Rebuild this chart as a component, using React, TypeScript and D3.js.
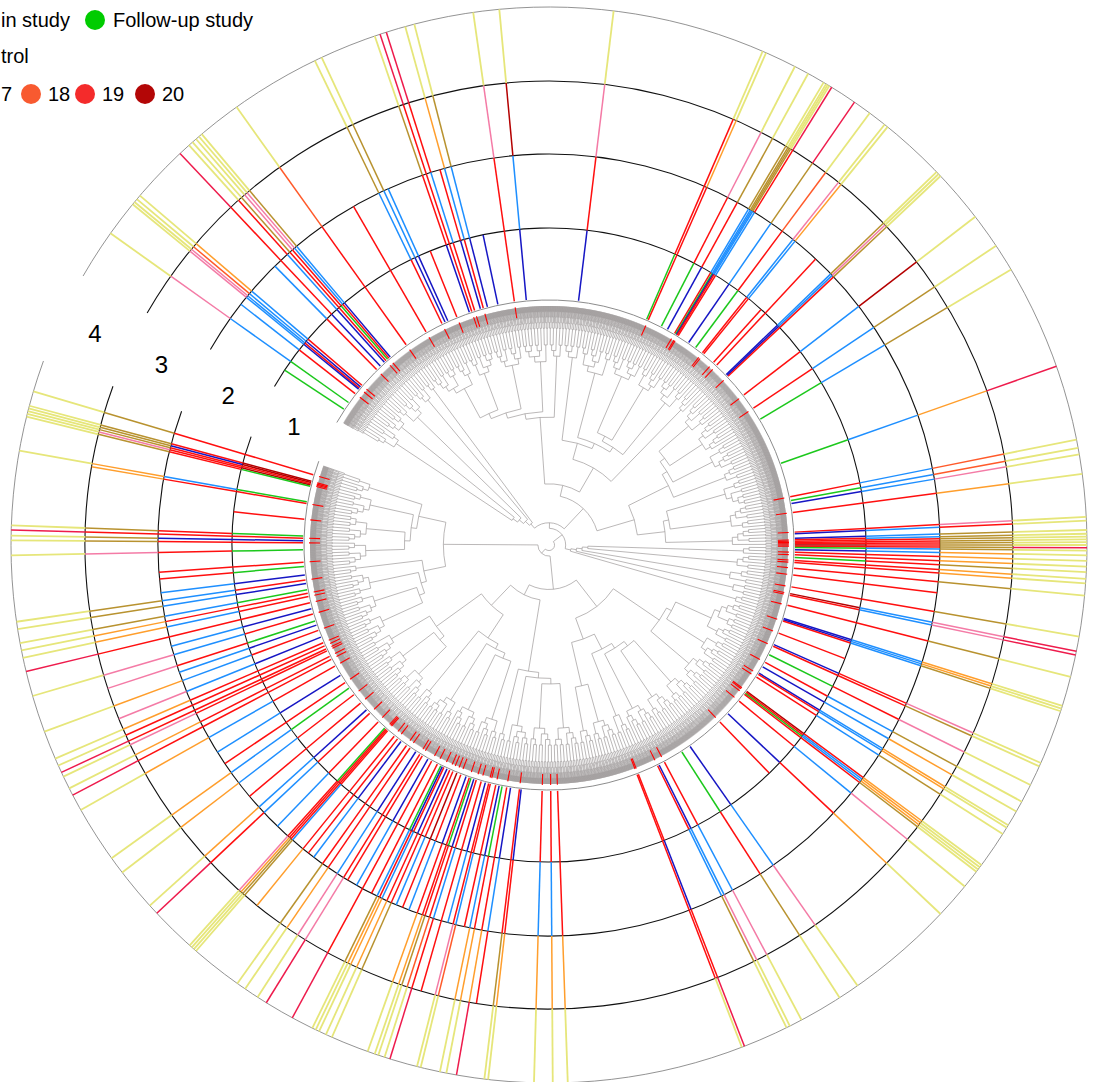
import React from "react";
import * as d3 from "d3";

const WIDTH = 1094;
const HEIGHT = 1082;
const CX = 549;
const CY = 545;
const R_LEAF = 239;
const R_EDGE = 245;
const RING_R = [246, 317, 391, 464, 538];
const GAP_START = 150; // degrees (math, ccw from east)
const GAP_END = -200;

// ---------- DATA ----------
// Tree: merge height between neighbouring tip clusters (base-36, 0 = shallow, z = root)
const treeMergeHeights = [
  "01302s01201t0130120u0120v01",
  "w",
  "0120301040120a01302010b012030120c01020130d0120",
  "p",
  "01020h0130120401g0120301020e0130120f01020301k012",
  "r",
  "0120301a01203012b0130120c0120",
  "k",
  "01302010e0120301f01203",
  "x",
  "01t0120u0130v020w01",
  "z",
  "0120301040120b0130120c012030120",
  "m",
  "01203010d0120301e01203012f0130",
  "i",
  "0120301a0120",
  "s",
  "01203010b0120301c0120130d01",
  "q",
  "0130120e01203012f01302010g0120",
  "l",
  "01203010a0120301b012030",
  "y",
  "0120301b0120301c0130120d01",
  "h",
  "0120301a01203010b0120301c0120",
].join("");
// merge heights inside each tip cluster (nine tips per cluster)
const tipClusterHeights = [0, 1, 0, 2, 0, 1, 0, 3];
const clusterHeightOffset = 6;

const ringLabels = ["1", "2", "3", "4"];

// radial marks: [angle in degrees (ccw from east), colour code per ring band]
const marksUpperRight: [number, string][] = [
  [83.1, "BRPY"], [66.6, "GRRY"], [66.2, "RROY"], [62.8, "GRPY"], [61.2, "BRKY"],
  [59.3, "RLKY"], [59.0, "GLKY"], [58.8, "BLKY"], [58.6, "RLKY"], [58.3, "RLRR"],
  [55.4, "BLKR"], [53.4, "GREY"], [51.4, "RLPY"], [51.0, "RLOY"], [48.0, "R"],
  [47.0, "RR"], [43.9, "BLKY"], [43.6, "BLPY"], [43.3, "RRKY"], [37.6, "RLDY"],
  [33.8, "RLKY"], [30.8, "GLKY"], [19.4, "GLOR"], [11.3, "RLEY"], [10.4, "GLEY"],
  [9.7, "BLPY"], [7.6, "RROY"], [3.0, "RRPY"], [2.6, "BLRY"],
];
const marksEast: [number, string][] = [
  [1.6, "BLKY"], [1.2, "RLKY"], [0.9, "RRKY"], [0.6, "RRKY"], [0.3, "RRKY"],
  [0.0, "DRKY"], [-0.3, "RRKR"], [-0.6, "GLKY"], [-1.1, "BLOY"], [-1.7, "RROY"],
  [-2.3, "RROY"], [-2.9, "GRKY"], [-3.6, "RROY"], [-4.1, "RROY"], [-5.4, "RRKY"],
  [-7.0, "RR"],
];
const marksLowerRight: [number, string][] = [
  [-9.8, "RRKY"], [-11.4, "DLPR"], [-11.8, "RLPR"], [-14.2, "RRKY"], [-17.4, "BLOY"],
  [-17.7, "BLOY"], [-18.0, "RLKY"], [-21.0, "R"], [-23.9, "BRPY"], [-24.3, "RRKY"],
  [-26.5, "GRPY"], [-28.5, "RLKY"], [-29.7, "BLOY"], [-31.4, "BLOY"], [-31.7, "RLOY"],
  [-32.5, "RLKY"], [-36.5, "DROY"], [-36.8, "RLOY"], [-37.1, "GLOY"], [-37.4, "RRKY"],
  [-39.4, "RLPY"], [-43.3, "BROY"], [-46.0, "R"], [-55.0, "BLPY"], [-57.3, "GRKY"],
  [-62.0, "RLPY"], [-63.4, "BLPY"], [-63.8, "RLKY"], [-68.7, "RBRR"], [-69.0, "RRRY"],
  [-88.0, "RROY"], [-89.6, "RLOY"], [-91.6, "RLOY"],
];
const marksLowerLeft: [number, string][] = [
  [-96.5, "BROY"], [-96.9, "RRKY"], [-99.0, "BLR"], [-99.9, "RROR"], [-101.0, "GROY"],
  [-101.7, "BLOY"], [-102.5, "RR"], [-103.8, "RLEY"], [-104.2, "RRPY"], [-105.0, "BL"],
  [-106.0, "RRR"], [-107.2, "RLRR"], [-107.8, "BREY"], [-108.5, "GRKY"], [-108.9, "RROY"],
  [-109.7, "BROY"], [-111.0, "RL"], [-112.0, "DR"], [-113.0, "RL"], [-113.8, "RRKY"],
  [-114.5, "BROY"], [-115.3, "RLOY"], [-115.7, "BROY"], [-116.1, "GLKY"], [-117.0, "RR"],
  [-118.5, "RRRR"], [-119.5, "BL"], [-121.0, "RR"], [-121.7, "RRPR"], [-122.8, "BLPY"],
  [-124.4, "RROY"], [-125.4, "RRKY"], [-127.0, "BL"], [-128.0, "RR"], [-129.0, "RRO"],
  [-131.0, "RLKY"], [-131.3, "RRKY"], [-131.6, "RROY"], [-131.9, "GRPY"], [-134.0, "RL"],
  [-136.8, "RLRR"], [-137.9, "BLOY"], [-140.0, "RR"], [-142.5, "RLOY"], [-144.4, "GLOY"],
  [-146.0, "RR"], [-148.0, "BL"], [-150.5, "RLOY"], [-152.3, "RRRR"], [-153.1, "RROY"],
  [-154.5, "RRPY"], [-155.0, "RRRR"], [-155.8, "RRRY"], [-156.6, "RROY"], [-158.0, "BLP"],
  [-159.7, "RLOY"], [-161.0, "BL"], [-162.0, "GRP"], [-163.7, "RLPY"], [-165.0, "BL"],
  [-166.4, "RRRR"], [-167.9, "RLOY"], [-168.7, "RROY"], [-169.5, "GLKY"], [-171.0, "BLKY"],
  [-171.8, "RLKY"], [-173.0, "BL"], [-175.0, "GR"], [-176.0, "RR"], [-178.9, "GRPY"],
];
const marksLeft: [number, string][] = [
  [163.4, "RRKY"], [165.0, "DRKY"], [165.3, "DBKY"], [165.6, "RRKY"], [165.9, "DRPY"],
  [166.2, "GRKY"], [169.9, "GLOY"], [170.3, "RRO"], [174.0, "R"], [177.9, "GRKY"],
  [178.4, "RRRR"], [179.0, "BBKY"], [179.5, "RRKY"],
];
const marksUpperLeft: [number, string][] = [
  [95.3, "BLDY"], [98.1, "RRPY"], [102.0, "B"], [104.5, "BLKY"], [105.5, "RLOY"],
  [106.2, "BR"], [107.6, "RLRR"], [108.3, "RRRR"], [108.9, "BRKY"], [112.0, "R"],
  [114.3, "BL"], [115.0, "BLKY"], [115.8, "RLKY"], [120.0, "RR"], [125.5, "RREY"],
  [130.2, "BLKY"], [130.6, "RLPY"], [131.0, "GRPY"], [131.5, "RRKY"], [132.0, "BLRY"],
  [133.3, "BRRR"], [134.5, "RL"], [139.5, "RLOY"], [140.0, "BLEY"], [140.4, "RLPY"],
  [140.7, "BLPY"], [142.0, "RL"], [144.6, "GLPY"], [146.5, "G"],
];

// legend texts as visible in the picture (the legend runs off the left edge)
const studyLabels = ["in study", "Follow-up study"];
const studyColors = ["#FF0000", "#00CC00"];
const controlLabels = ["trol"];
const scoreLabels = ["7", "18", "19", "20"];
const scoreColors = ["#F7803A", "#F85A30", "#F42B2B", "#B30606"];

// ---------- COLOURS ----------
const palette: Record<string, string> = {
  R: "#FF0F0F",
  D: "#B40000",
  B: "#1616C4",
  G: "#1CC81C",
  L: "#1E8FFF",
  O: "#FF9E2C",
  P: "#F47BA6",
  K: "#B8922F",
  Y: "#E6E67A",
  E: "#FF5A2A",
};
const outerRed = "#EE1B4C";

// ---------- SCALES ----------
const toRad = d3.scaleLinear().domain([0, 180]).range([0, Math.PI]);
const pt = (a: number, r: number): [number, number] => [
  CX + r * Math.cos(toRad(a)),
  CY - r * Math.sin(toRad(a)),
];

type TNode = { leaf?: number; h?: number; children?: TNode[] };

function buildTree() {
  const clusterH = treeMergeHeights.split("").map((c) => parseInt(c, 36) + clusterHeightOffset);
  const hv: number[] = [];
  clusterH.forEach((h) => {
    hv.push(...tipClusterHeights, h);
  });
  hv.push(...tipClusterHeights);
  const n = hv.length + 1;
  const maxH = d3.max(hv)!;
  const build = (lo: number, hi: number): TNode => {
    if (lo === hi) return { leaf: lo };
    let k = lo;
    for (let i = lo; i < hi; i++) if (hv[i] > hv[k]) k = i;
    return { h: hv[k], children: [build(lo, k), build(k + 1, hi)] };
  };
  const leafAngle = d3.scaleLinear().domain([0, n - 1]).range([149.3, -199.3]);
  const nodeRadius = d3.scaleLinear().domain([-1, maxH + 1]).range([R_LEAF, 0]);
  const root = d3.hierarchy<TNode>(build(0, n - 1), (d) => d.children);
  const pos = new Map<any, { a: number; r: number }>();
  root.eachAfter((node: any) => {
    if (!node.children) {
      pos.set(node, { a: leafAngle(node.data.leaf), r: R_LEAF });
    } else {
      const first = pos.get(node.children[0])!;
      const last = pos.get(node.children[node.children.length - 1])!;
      pos.set(node, { a: (first.a + last.a) / 2, r: nodeRadius(node.data.h) });
    }
  });
  const p = d3.path();
  root.each((node: any) => {
    if (!node.children) return;
    const me = pos.get(node)!;
    const a0 = pos.get(node.children[0])!.a;
    const a1 = pos.get(node.children[node.children.length - 1])!.a;
    const s = pt(a0, me.r);
    p.moveTo(s[0], s[1]);
    p.arc(CX, CY, me.r, -toRad(a0), -toRad(a1), false);
    for (const c of node.children) {
      const cp = pos.get(c)!;
      const q0 = pt(cp.a, me.r);
      const q1 = pt(cp.a, cp.r);
      p.moveTo(q0[0], q0[1]);
      p.lineTo(q1[0], q1[1]);
    }
  });
  return p.toString();
}

function ringPath(r: number) {
  const p = d3.path();
  const s = pt(GAP_START, r);
  p.moveTo(s[0], s[1]);
  p.arc(CX, CY, r, -toRad(GAP_START), -toRad(GAP_END), false);
  return p.toString();
}

const allMarks = [
  ...marksUpperRight,
  ...marksEast,
  ...marksLowerRight,
  ...marksLowerLeft,
  ...marksLeft,
  ...marksUpperLeft,
];

const FONT = "'Liberation Sans', Arial, Helvetica, sans-serif";

export default function App() {
  const treePath = React.useMemo(buildTree, []);

  const segments: { x1: number; y1: number; x2: number; y2: number; c: string; w: number }[] = [];
  allMarks.forEach(([a, code]) => {
    code.split("").forEach((ch, k) => {
      const [x1, y1] = pt(a, RING_R[k]);
      const [x2, y2] = pt(a, RING_R[k + 1]);
      const c = k === 3 && ch === "R" ? outerRed : palette[ch];
      segments.push({ x1, y1, x2, y2, c, w: ch === "Y" ? 1.8 : 1.5 });
    });
  });
  // yellow first so the coloured lines sit on top
  segments.sort((s1, s2) => (s1.c === palette.Y ? 0 : 1) - (s2.c === palette.Y ? 0 : 1));

  const tips = allMarks.filter(([, code]) => code[0] === "R" || code[0] === "D");

  return (
    <svg
      width={WIDTH}
      height={HEIGHT}
      style={{ position: "absolute", left: 0, top: 0, background: "#fff" }}
      fontFamily={FONT}
    >
      {/* tree */}
      <path d={treePath} fill="none" stroke="#9E9A9A" strokeWidth={0.7} />
      {tips.map(([a], i) => {
        const [x1, y1] = pt(a, 229);
        const [x2, y2] = pt(a, R_LEAF + 1);
        return <line key={"t" + i} x1={x1} y1={y1} x2={x2} y2={y2} stroke="#FF0000" strokeWidth={1.1} />;
      })}
      {/* tree edge arc */}
      <path d={ringPath(R_EDGE)} fill="none" stroke="#8C8C8C" strokeWidth={1} />
      {/* rings */}
      {RING_R.slice(1, 4).map((r) => (
        <path key={"r" + r} d={ringPath(r)} fill="none" stroke="#111" strokeWidth={1.1} />
      ))}
      <path d={ringPath(RING_R[4])} fill="none" stroke="#777" strokeWidth={0.8} />
      {/* radial marks */}
      {segments.map((s, i) => (
        <line key={"s" + i} x1={s.x1} y1={s.y1} x2={s.x2} y2={s.y2} stroke={s.c} strokeWidth={s.w} />
      ))}
      {/* ring labels */}
      {ringLabels.map((t, i) => {
        const [x, y] = pt(155, (RING_R[i] + RING_R[i + 1]) / 2);
        return (
          <text key={"l" + t} x={x} y={y} fontSize={24} textAnchor="middle" dominantBaseline="central" fill="#000">
            {t}
          </text>
        );
      })}
      {/* legend */}
      <g fontSize={20} fill="#000">
        <text x={1} y={27}>{studyLabels[0]}</text>
        <circle cx={95} cy={20} r={10} fill={studyColors[1]} />
        <text x={113} y={27}>{studyLabels[1]}</text>
        <text x={1} y={63}>{controlLabels[0]}</text>
        {scoreLabels.map((t, i) => {
          const dotX = [-27, 31, 85, 145][i];
          return (
            <g key={"sc" + t}>
              {i > 0 && <circle cx={dotX} cy={94} r={10} fill={scoreColors[i]} />}
              <text x={i === 0 ? 1 : dotX + 17} y={101}>{t}</text>
            </g>
          );
        })}
      </g>
    </svg>
  );
}
